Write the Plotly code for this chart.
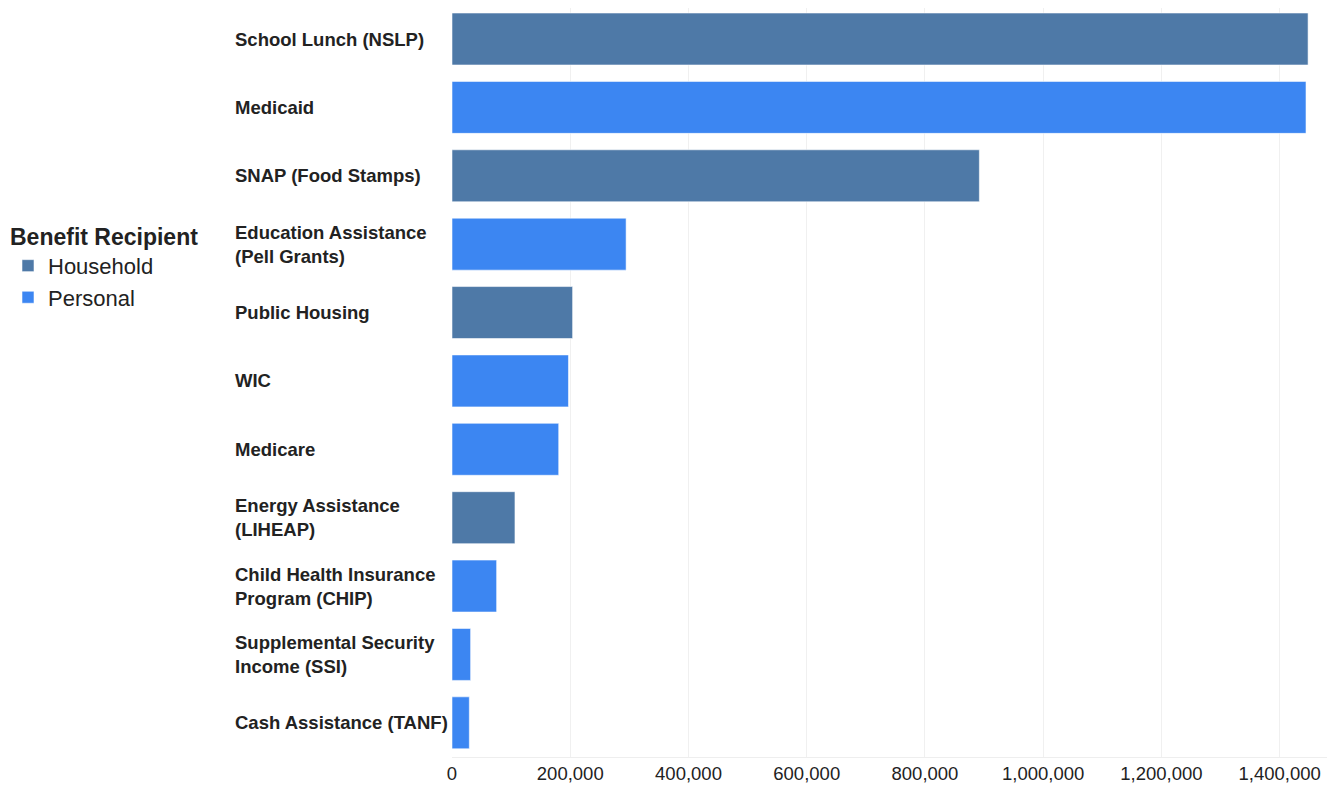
import plotly.graph_objects as go

programs = [
    "School Lunch (NSLP)", "Medicaid", "SNAP (Food Stamps)",
    "Education Assistance<br>(Pell Grants)", "Public Housing", "WIC", "Medicare",
    "Energy Assistance<br>(LIHEAP)", "Child Health Insurance<br>Program (CHIP)",
    "Supplemental Security<br>Income (SSI)", "Cash Assistance (TANF)",
]
values = [1448000, 1444500, 892000, 294500, 204000, 197000, 180500, 106500, 75500, 31500, 29300]
recipient = ["Household", "Personal", "Household", "Personal", "Household", "Personal",
             "Personal", "Household", "Personal", "Personal", "Personal"]
tick_vals = [0, 200000, 400000, 600000, 800000, 1000000, 1200000, 1400000]
tick_text = ["0", "200,000", "400,000", "600,000", "800,000", "1,000,000", "1,200,000", "1,400,000"]

colors = {"Household": "#4e79a7", "Personal": "#3c86f2"}
FONT = "Liberation Sans, Arial, sans-serif"

fig = go.Figure()
for grp in ["Household", "Personal"]:
    ys = [p for p, r in zip(programs, recipient) if r == grp]
    xs = [v for v, r in zip(values, recipient) if r == grp]
    fig.add_trace(go.Bar(
        y=ys, x=xs, orientation="h", name=grp,
        marker=dict(color=colors[grp], line=dict(color="rgba(255,255,255,0.55)", width=1)),
    ))

for p in programs:
    fig.add_annotation(
        x=-0.2505, xref="paper", y=p, yref="y", text="<b>" + p + "</b>",
        showarrow=False, xanchor="left", align="left",
        font=dict(family=FONT, size=18.5, color="#222"),
    )

fig.update_layout(
    width=1335, height=778,
    margin=dict(l=444, r=16, t=0, b=29),
    paper_bgcolor="white", plot_bgcolor="white",
    barmode="relative", bargap=0.24,
    font=dict(family=FONT, color="#222"),
    legend=dict(
        title=dict(text="<b>Benefit Recipient</b>", font=dict(size=23, color="#222")),
        font=dict(size=22, color="#222"),
        xref="container", yref="container", x=0, y=0.734,
        xanchor="left", yanchor="top", tracegroupgap=0, itemwidth=30,
    ),
    xaxis=dict(
        range=[0, 1480000], tickvals=tick_vals, ticktext=tick_text,
        showgrid=True, gridcolor="#f0f0f0", gridwidth=1, zeroline=False,
        showline=True, linecolor="#eeeeee", ticks="",
        tickfont=dict(size=18.5, color="#222"),
    ),
    yaxis=dict(
        categoryorder="array", categoryarray=programs, range=[10.5, -0.4535],
        showticklabels=False, showgrid=False, zeroline=False, showline=False,
    ),
)

fig.write_html("out.html")
